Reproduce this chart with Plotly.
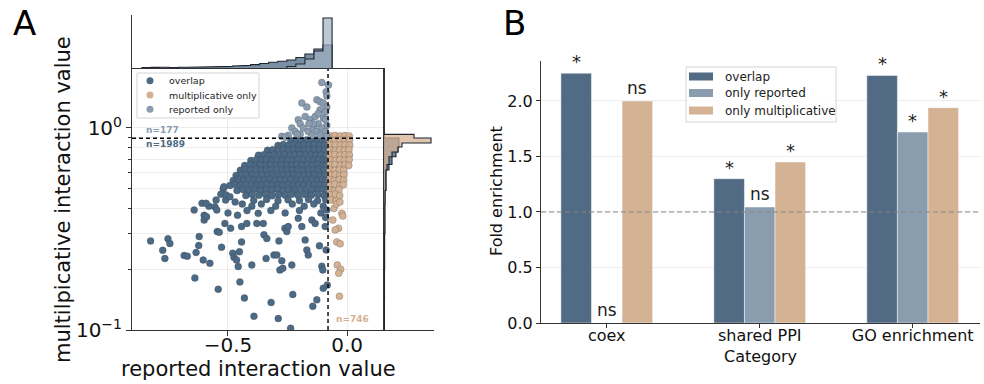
import plotly.graph_objects as go

W, H = 984, 384
FONT = "DejaVu Sans"

# ---------------- Panel A data ----------------
overlap_points = [
    # dense core
    (-0.236, 0.868), (-0.214, 0.874), (-0.192, 0.866), (-0.170, 0.872), (-0.148, 0.869), (-0.126, 0.875), (-0.105, 0.867), (-0.088, 0.872),
    (-0.290, 0.820), (-0.268, 0.828), (-0.246, 0.821), (-0.224, 0.826), (-0.203, 0.819), (-0.181, 0.827), (-0.159, 0.822), (-0.137, 0.828), (-0.115, 0.820), (-0.094, 0.825),
    (-0.334, 0.776), (-0.312, 0.781), (-0.290, 0.774), (-0.268, 0.780), (-0.247, 0.777), (-0.225, 0.782), (-0.203, 0.775), (-0.181, 0.779), (-0.160, 0.783), (-0.138, 0.776), (-0.116, 0.780), (-0.095, 0.777),
    (-0.372, 0.733), (-0.350, 0.738), (-0.328, 0.731), (-0.306, 0.737), (-0.284, 0.734), (-0.262, 0.739), (-0.240, 0.732), (-0.218, 0.736), (-0.197, 0.740), (-0.175, 0.733), (-0.153, 0.737), (-0.131, 0.731), (-0.110, 0.736), (-0.089, 0.734),
    (-0.404, 0.690), (-0.382, 0.697), (-0.360, 0.692), (-0.338, 0.696), (-0.316, 0.691), (-0.294, 0.698), (-0.272, 0.693), (-0.250, 0.695), (-0.228, 0.690), (-0.207, 0.697), (-0.185, 0.692), (-0.163, 0.696), (-0.141, 0.691), (-0.120, 0.698), (-0.099, 0.693), (-0.086, 0.690),
    (-0.430, 0.652), (-0.408, 0.658), (-0.386, 0.654), (-0.364, 0.660), (-0.342, 0.653), (-0.320, 0.657), (-0.298, 0.651), (-0.276, 0.659), (-0.254, 0.655), (-0.232, 0.652), (-0.210, 0.658), (-0.188, 0.654), (-0.166, 0.660), (-0.144, 0.653), (-0.122, 0.657), (-0.101, 0.652), (-0.086, 0.658),
    (-0.448, 0.617), (-0.426, 0.623), (-0.404, 0.618), (-0.382, 0.624), (-0.360, 0.616), (-0.338, 0.621), (-0.316, 0.619), (-0.294, 0.624), (-0.272, 0.617), (-0.250, 0.622), (-0.228, 0.618), (-0.206, 0.623), (-0.184, 0.616), (-0.162, 0.621), (-0.140, 0.619), (-0.118, 0.624), (-0.097, 0.617),
    (-0.466, 0.582), (-0.444, 0.588), (-0.422, 0.584), (-0.400, 0.589), (-0.378, 0.581), (-0.356, 0.586), (-0.334, 0.583), (-0.312, 0.588), (-0.290, 0.582), (-0.268, 0.587), (-0.246, 0.584), (-0.224, 0.589), (-0.202, 0.581), (-0.180, 0.586), (-0.158, 0.583), (-0.136, 0.588), (-0.114, 0.582), (-0.092, 0.587),
    (-0.478, 0.550), (-0.456, 0.556), (-0.434, 0.551), (-0.412, 0.557), (-0.390, 0.549), (-0.368, 0.554), (-0.346, 0.552), (-0.324, 0.557), (-0.302, 0.550), (-0.280, 0.555), (-0.258, 0.551), (-0.236, 0.556), (-0.214, 0.549), (-0.192, 0.554), (-0.170, 0.552), (-0.148, 0.557), (-0.126, 0.550), (-0.104, 0.555), (-0.087, 0.551),
    (-0.492, 0.519), (-0.469, 0.525), (-0.446, 0.520), (-0.424, 0.526), (-0.402, 0.518), (-0.380, 0.523), (-0.358, 0.521), (-0.336, 0.526), (-0.314, 0.519), (-0.292, 0.524), (-0.270, 0.520), (-0.248, 0.525), (-0.226, 0.518), (-0.204, 0.523), (-0.182, 0.521), (-0.160, 0.526), (-0.138, 0.519), (-0.116, 0.524), (-0.094, 0.520),
    (-0.462, 0.490), (-0.437, 0.496), (-0.412, 0.491), (-0.388, 0.497), (-0.364, 0.489), (-0.340, 0.494), (-0.316, 0.492), (-0.292, 0.497), (-0.268, 0.490), (-0.244, 0.495), (-0.220, 0.491), (-0.196, 0.496), (-0.172, 0.489), (-0.148, 0.494), (-0.124, 0.492), (-0.100, 0.497), (-0.086, 0.490),
    (-0.425, 0.463), (-0.398, 0.469), (-0.370, 0.464), (-0.342, 0.470), (-0.315, 0.462), (-0.288, 0.467), (-0.260, 0.465), (-0.232, 0.470), (-0.205, 0.463), (-0.178, 0.468), (-0.150, 0.464), (-0.122, 0.469), (-0.096, 0.463),
    (-0.392, 0.438), (-0.338, 0.443), (-0.290, 0.436), (-0.248, 0.441), (-0.200, 0.437), (-0.162, 0.442), (-0.124, 0.436), (-0.090, 0.441),
    # fringe of the core
    (-0.520, 0.500), (-0.530, 0.470), (-0.510, 0.440), (-0.550, 0.440), (-0.470, 0.430), (-0.440, 0.420), (-0.400, 0.410), (-0.360, 0.420),
    (-0.300, 0.410), (-0.230, 0.420), (-0.180, 0.410), (-0.140, 0.420), (-0.100, 0.410), (-0.580, 0.410), (-0.600, 0.370), (-0.500, 0.380),
    (-0.460, 0.370), (-0.420, 0.390), (-0.320, 0.390), (-0.260, 0.380), (-0.200, 0.390), (-0.110, 0.380), (-0.090, 0.360),
    # sparse tail
    (-0.825, 0.276), (-0.774, 0.248), (-0.765, 0.226), (-0.752, 0.283), (-0.744, 0.268), (-0.684, 0.234), (-0.671, 0.232), (-0.642, 0.393),
    (-0.639, 0.181), (-0.634, 0.242), (-0.623, 0.262), (-0.621, 0.290), (-0.609, 0.424), (-0.604, 0.222), (-0.600, 0.350), (-0.592, 0.424),
    (-0.590, 0.364), (-0.576, 0.214), (-0.555, 0.408), (-0.547, 0.393), (-0.541, 0.159), (-0.545, 0.307), (-0.537, 0.305), (-0.527, 0.257),
    (-0.517, 0.512), (-0.513, 0.337), (-0.508, 0.466), (-0.492, 0.457), (-0.489, 0.319), (-0.480, 0.240), (-0.475, 0.229), (-0.464, 0.222),
    (-0.452, 0.244), (-0.450, 0.173), (-0.443, 0.273), (-0.431, 0.144), (-0.457, 0.206), (-0.443, 0.325), (-0.421, 0.337), (-0.400, 0.210),
    (-0.391, 0.117), (-0.379, 0.337), (-0.373, 0.378), (-0.352, 0.337), (-0.349, 0.296), (-0.340, 0.226), (-0.337, 0.284), (-0.319, 0.137),
    (-0.307, 0.235), (-0.295, 0.235), (-0.289, 0.114), (-0.286, 0.276), (-0.282, 0.198), (-0.274, 0.220), (-0.270, 0.202), (-0.261, 0.319),
    (-0.253, 0.307), (-0.247, 0.325), (-0.237, 0.102), (-0.232, 0.210), (-0.228, 0.150), (-0.205, 0.357), (-0.190, 0.325), (-0.176, 0.279),
    (-0.169, 0.249), (-0.163, 0.235), (-0.148, 0.350), (-0.144, 0.131), (-0.134, 0.337), (-0.127, 0.141), (-0.116, 0.261), (-0.106, 0.207),
    (-0.102, 0.198), (-0.100, 0.161), (-0.092, 0.325), (-0.088, 0.249), (-0.083, 0.167), (-0.085, 0.393),
]

reported_only_points = [
    (-0.106, 1.68), (-0.078, 1.63), (-0.088, 1.51), (-0.085, 1.44), (-0.190, 1.33), (-0.169, 1.27), (-0.127, 1.38), (-0.113, 1.35),
    (-0.100, 1.33), (-0.085, 1.27), (-0.113, 1.23), (-0.205, 1.10), (-0.197, 1.05), (-0.176, 1.14), (-0.155, 1.10), (-0.134, 1.14),
    (-0.121, 1.05), (-0.100, 1.12), (-0.085, 1.03), (-0.232, 1.00), (-0.247, 0.92), (-0.218, 0.96), (-0.184, 1.00), (-0.163, 0.96),
    (-0.142, 1.00), (-0.127, 0.96), (-0.106, 1.00), (-0.092, 0.96), (-0.197, 0.93), (-0.148, 0.92), (-0.113, 0.92), (-0.085, 0.91),
    (-0.274, 0.91), (-0.121, 1.18), (-0.142, 1.05), (-0.090, 1.20), (-0.090, 1.10), (-0.160, 1.05), (-0.210, 0.93), (-0.260, 0.90),
]

mult_only_points = [
    (-0.071, 0.915), (-0.050, 0.918), (-0.029, 0.913), (-0.009, 0.917), (0.009, 0.914),
    (-0.072, 0.872), (-0.051, 0.868), (-0.030, 0.874), (-0.010, 0.869), (0.010, 0.873),
    (-0.070, 0.824), (-0.049, 0.828), (-0.028, 0.821), (-0.008, 0.826), (0.011, 0.822),
    (-0.071, 0.778), (-0.050, 0.774), (-0.031, 0.780), (-0.011, 0.776), (0.008, 0.781),
    (-0.072, 0.735), (-0.052, 0.739), (-0.029, 0.733), (-0.009, 0.737), (0.010, 0.734),
    (-0.070, 0.694), (-0.050, 0.690), (-0.030, 0.696), (-0.010, 0.692), (0.009, 0.697),
    (-0.071, 0.656), (-0.051, 0.660), (-0.029, 0.653), (-0.008, 0.658), (0.007, 0.652),
    (-0.072, 0.620), (-0.052, 0.616), (-0.032, 0.622), (-0.014, 0.618),
    (-0.071, 0.585), (-0.050, 0.589), (-0.031, 0.582), (-0.013, 0.587),
    (-0.072, 0.553), (-0.053, 0.549), (-0.033, 0.556), (-0.015, 0.551),
    (-0.070, 0.522), (-0.051, 0.526), (-0.030, 0.519), (-0.016, 0.524),
    (-0.071, 0.493), (-0.052, 0.489), (-0.034, 0.496),
    (-0.070, 0.466), (-0.049, 0.470), (-0.031, 0.463),
    (-0.068, 0.440), (-0.046, 0.436),
    (-0.036, 0.319), (-0.043, 0.273), (-0.029, 0.267), (-0.041, 0.210), (-0.027, 0.200), (-0.035, 0.191), (-0.032, 0.147),
    (-0.022, 0.378), (-0.018, 0.367), (-0.050, 0.313), (-0.055, 0.400), (-0.045, 0.420), (-0.030, 0.430), (-0.060, 0.350),
]

# marginal histogram of reported values
top_edges_overlap = [-0.861, -0.823, -0.785, -0.747, -0.709, -0.671, -0.633, -0.595, -0.557, -0.519, -0.481,
                     -0.443, -0.405, -0.367, -0.329, -0.291, -0.253, -0.215, -0.177, -0.139, -0.101, -0.063]
top_counts_overlap = [0.4, 0.6, 0.8, 0.5, 0.8, 0.9, 1.0, 1.0, 1.3, 1.6, 2.0, 2.6, 3.4, 4.5, 5.8, 6.8, 8.0, 10.5, 14.0, 19.0, 23.0]
top_edges_reported = [-0.253, -0.215, -0.177, -0.139, -0.101, -0.063]
top_counts_reported = [1.5, 4.0, 9.0, 17.0, 50.0]

# marginal histogram of multiplicative values
right_edges_overlap = [0.1, 0.2, 0.3, 0.42, 0.49, 0.62, 0.66, 0.72, 0.76, 0.805, 0.843, 0.892]
right_counts_overlap = [0.4, 0.6, 0.8, 1.0, 2.0, 5.0, 8.0, 12.0, 14.0, 15.0, 15.0]
right_edges_mult = [0.14, 0.3, 0.42, 0.49, 0.62, 0.66, 0.72, 0.76, 0.805, 0.843, 0.892, 0.93]
right_counts_mult = [0.5, 0.8, 1.0, 1.8, 3.0, 5.0, 8.0, 14.0, 18.0, 47.0, 30.0]

reported_cut = -0.08
mult_cut = 0.89
group_sizes = {"reported only": 177, "overlap": 1989, "multiplicative only": 746}
scatter_labels = ["overlap", "multiplicative only", "reported only"]

# ---------------- Panel B data ----------------
categories = ["coex", "shared PPI", "GO enrichment"]
bar_labels = ["overlap", "only reported", "only multiplicative"]
fe_overlap = [2.25, 1.30, 2.23]
fe_reported = [0.0, 1.045, 1.72]
fe_mult = [2.0, 1.45, 1.94]
sig_overlap = ["*", "*", "*"]
sig_reported = ["ns", "ns", "*"]
sig_mult = ["ns", "*", "*"]

C_OVERLAP = "#4d6a85"
C_REPORTED = "#8a9db0"
C_MULT = "#d4b193"
B_OVERLAP = "#506b83"
B_REPORTED = "#8a9daf"
B_MULT = "#d4b395"


def px(v):
    return v / W


def py(v):
    return 1 - v / H


def step_h(edges, counts):
    xs, ys = [edges[0]], [0]
    for i, c in enumerate(counts):
        xs += [edges[i], edges[i + 1]]
        ys += [c, c]
    xs.append(edges[-1])
    ys.append(0)
    return xs, ys


def step_v(edges, counts):
    xs, ys = [0], [edges[0]]
    for i, c in enumerate(counts):
        xs += [c, c]
        ys += [edges[i], edges[i + 1]]
    xs.append(0)
    ys.append(edges[-1])
    return xs, ys


fig = go.Figure()


def scatter_group(points, color, name):
    fig.add_trace(go.Scatter(
        x=[p[0] for p in points], y=[p[1] for p in points], mode="markers", name=name,
        marker=dict(size=7, color=color, line=dict(width=0.5, color="rgba(40,50,60,0.45)")),
        xaxis="x", yaxis="y", showlegend=False,
    ))


scatter_group(overlap_points, C_OVERLAP, "overlap")
scatter_group(mult_only_points, C_MULT, "multiplicative only")
scatter_group(reported_only_points, C_REPORTED, "reported only")

# threshold lines
fig.add_trace(go.Scatter(x=[reported_cut, reported_cut], y=[0.1, 1.96], mode="lines",
                         line=dict(color="black", width=1.4, dash="4px,3px"), showlegend=False,
                         xaxis="x", yaxis="y", hoverinfo="skip"))
fig.add_trace(go.Scatter(x=[-0.903, 0.155], y=[mult_cut, mult_cut], mode="lines",
                         line=dict(color="black", width=1.4, dash="4px,3px"), showlegend=False,
                         xaxis="x", yaxis="y", hoverinfo="skip"))

# top marginal
for edges, counts, fill in [(top_edges_overlap, top_counts_overlap, "rgba(77,106,133,0.75)"),
                            (top_edges_reported, top_counts_reported, "rgba(160,178,195,0.7)")]:
    xs, ys = step_h(edges, counts)
    fig.add_trace(go.Scatter(x=xs, y=ys, mode="lines", fill="toself", fillcolor=fill,
                             line=dict(color="#1e2630", width=1.1), showlegend=False,
                             xaxis="x2", yaxis="y2", hoverinfo="skip"))

# right marginal
for edges, counts, fill in [(right_edges_overlap, right_counts_overlap, "rgba(77,106,133,0.8)"),
                            (right_edges_mult, right_counts_mult, "rgba(212,177,147,0.75)")]:
    xs, ys = step_v(edges, counts)
    fig.add_trace(go.Scatter(x=xs, y=ys, mode="lines", fill="toself", fillcolor=fill,
                             line=dict(color="#1e2630", width=1.1), showlegend=False,
                             xaxis="x3", yaxis="y3", hoverinfo="skip"))

# bars
cat_pos = [0, 1, 2]
bar_w = 0.2
for vals, color, name, off in [(fe_overlap, B_OVERLAP, bar_labels[0], -0.3),
                               (fe_reported, B_REPORTED, bar_labels[1], -0.1),
                               (fe_mult, B_MULT, bar_labels[2], 0.1)]:
    fig.add_trace(go.Bar(x=cat_pos, y=vals, width=bar_w, offset=off, name=name,
                         marker=dict(color=color, line=dict(width=0.8, color="rgba(255,255,255,0.6)")),
                         xaxis="x4", yaxis="y4", showlegend=False))

fig.add_trace(go.Scatter(x=[-0.43, 2.44], y=[1.0, 1.0], mode="lines",
                         line=dict(color="#888888", width=1.2, dash="5px,3px"), showlegend=False,
                         xaxis="x4", yaxis="y4", hoverinfo="skip"))

annotations = []
for vals, sigs, off in [(fe_overlap, sig_overlap, -0.2), (fe_reported, sig_reported, 0.0), (fe_mult, sig_mult, 0.2)]:
    for i, (v, s) in enumerate(zip(vals, sigs)):
        annotations.append(dict(x=cat_pos[i] + off, y=v, xref="x4", yref="y4", text=s, showarrow=False,
                                xanchor="center", yanchor="bottom", yshift=(-1 if s == "*" else 1),
                                font=dict(family=FONT, size=18 if s == "*" else 17, color="#222")))


def note(x, y, text, size, color="#111", xanchor="center", angle=0, bold=False):
    annotations.append(dict(x=px(x), y=py(y), xref="paper", yref="paper",
                            text=("<b>%s</b>" % text) if bold else text, showarrow=False,
                            xanchor=xanchor, yanchor="middle", textangle=angle,
                            font=dict(family=FONT, size=size, color=color)))


# group counts
note(144, 130, "n=%d" % group_sizes["reported only"], 9, C_REPORTED, "left", bold=True)
note(144, 144, "n=%d" % group_sizes["overlap"], 9, C_OVERLAP, "left", bold=True)
note(334, 319, "n=%d" % group_sizes["multiplicative only"], 9, C_MULT, "left", bold=True)

# axis titles and panel letters
note(258, 369, "reported interaction value", 21)
note(63, 200, "multilpicative interaction value", 21, angle=-90)
note(760, 356, "Category", 16)
note(497, 191, "Fold enrichment", 16, angle=-90)
note(24, 23, "A", 34, "#000")
note(514, 23, "B", 34, "#000")

shapes = []

# key for panel A
shapes.append(dict(type="rect", xref="paper", yref="paper", x0=px(137), x1=px(259), y0=py(118), y1=py(73),
                   line=dict(color="#d4d4d4", width=1), fillcolor="rgba(255,255,255,0.85)", layer="above"))
for yc, color, label in zip([80.7, 95.0, 109.3], [C_OVERLAP, C_MULT, C_REPORTED], scatter_labels):
    shapes.append(dict(type="circle", xref="paper", yref="paper", x0=px(146.5), x1=px(153.5),
                       y0=py(yc + 3.5), y1=py(yc - 3.5), line=dict(width=0), fillcolor=color, layer="above"))
    note(167, yc, label, 9.5, "#222", "left")

# key for panel B
shapes.append(dict(type="rect", xref="paper", yref="paper", x0=px(686), x1=px(836), y0=py(122), y1=py(67),
                   line=dict(color="#d4d4d4", width=1), fillcolor="rgba(255,255,255,0.85)", layer="above"))
for yc, color, label in zip([76.5, 93.0, 110.5], [B_OVERLAP, B_REPORTED, B_MULT], bar_labels):
    shapes.append(dict(type="rect", xref="paper", yref="paper", x0=px(689), x1=px(713),
                       y0=py(yc + 4), y1=py(yc - 4), line=dict(width=0), fillcolor=color, layer="above"))
    note(723, yc, label, 12, "#222", "left")

AX = dict(linecolor="#333", linewidth=1, zeroline=False, tickcolor="#333", automargin=False)
GRID = "rgba(0,0,0,0.07)"

fig.update_layout(
    width=W, height=H, margin=dict(l=0, r=0, t=0, b=0, pad=0, autoexpand=False),
    paper_bgcolor="white", plot_bgcolor="white",
    font=dict(family=FONT, color="#111"),
    barmode="overlay", showlegend=False,
    annotations=annotations, shapes=shapes,
    xaxis=dict(domain=[px(132), px(384)], anchor="y", range=[-0.903, 0.155],
               tickvals=[-0.5, 0.0], ticktext=["\u22120.5", "0.0"], ticks="outside", ticklen=5,
               ticklabelstandoff=-8,
               tickfont=dict(size=20, color="#111"), showline=True, mirror=True,
               showgrid=True, gridcolor=GRID, **AX),
    yaxis=dict(domain=[py(330), py(69)], anchor="x", type="log", range=[-1, 0.292],
               tickvals=[0.1, 1], ticktext=["10<sup>\u22121</sup>", "10<sup>0</sup>"], ticks="outside", ticklen=5,
               tickfont=dict(size=20, color="#111"), showline=True, mirror=True,
               showgrid=True, gridcolor=GRID,
               minor=dict(tickvals=[0.2, 0.3, 0.4, 0.5, 0.6, 0.7, 0.8, 0.9], ticks="outside", ticklen=3,
                          tickcolor="#333", showgrid=True, gridcolor=GRID),
               **AX),
    xaxis2=dict(domain=[px(132), px(384)], anchor="y2", range=[-0.903, 0.155], showticklabels=False,
                ticks="", showline=True, showgrid=False, **AX),
    yaxis2=dict(domain=[py(68), py(15)], anchor="x2", range=[0, 53], showticklabels=False,
                ticks="", showline=True, showgrid=False, **AX),
    xaxis3=dict(domain=[px(384), px(434)], anchor="y3", range=[0, 50], showticklabels=False,
                ticks="", showline=True, showgrid=False, **AX),
    yaxis3=dict(domain=[py(330), py(69)], anchor="x3", type="log", range=[-1, 0.292], showticklabels=False,
                ticks="", showline=True, showgrid=False, **AX),
    xaxis4=dict(domain=[px(541), px(980)], anchor="y4", range=[-0.43, 2.44],
                tickvals=cat_pos, ticktext=categories, ticks="outside", ticklen=4, ticklabelstandoff=-6,
                tickfont=dict(size=16, color="#111"), showline=True, showgrid=False, **AX),
    yaxis4=dict(domain=[py(323), py(61)], anchor="x4", range=[0, 2.36], dtick=0.5, tickformat=".1f",
                ticks="outside", ticklen=4, tickfont=dict(size=16, color="#111"),
                showline=True, showgrid=True, gridcolor=GRID, **AX),
)

fig.write_html("out.html")
